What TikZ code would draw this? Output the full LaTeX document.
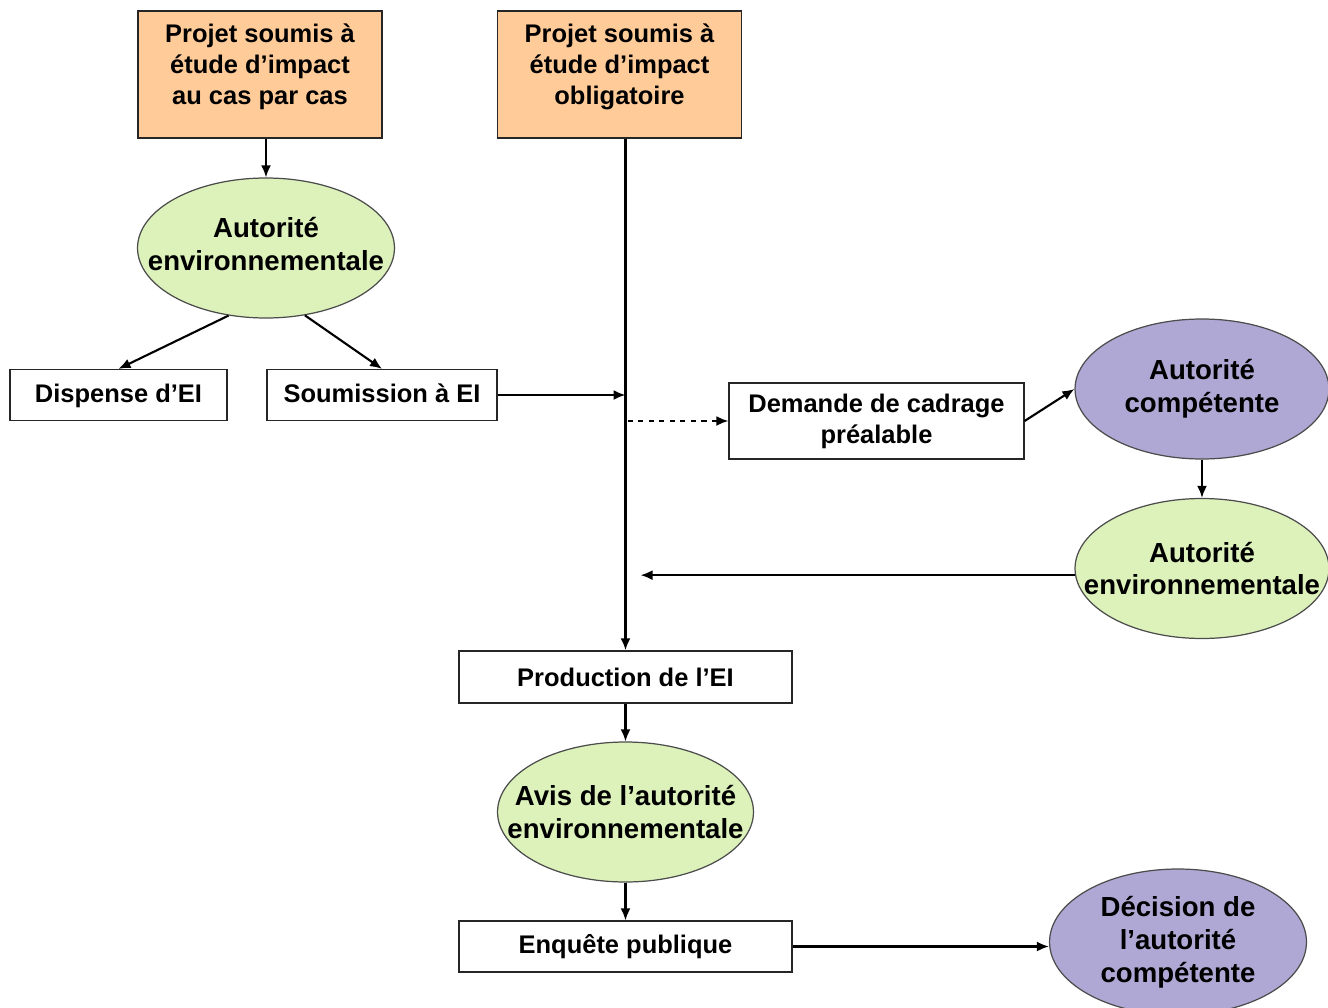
\documentclass[tikz,border=0pt]{standalone}
\usepackage{fontspec}
\setmainfont{Liberation Sans}
\usetikzlibrary{shapes.geometric, arrows.meta, positioning}

\definecolor{orangeclair}{RGB}{255,204,153}
\definecolor{vertclair}{RGB}{221,242,187}
\definecolor{violetclair}{RGB}{176,168,212}

\tikzset{
  boite/.style={rectangle, draw=black!85, line width=0.7pt, fill=white, align=center,
    inner sep=2pt, font=\bfseries\fontsize{14.5}{17.6}\selectfont},
  projet/.style={boite, fill=orangeclair, text depth=12pt},
  bulle/.style={ellipse, draw=black!70, line width=0.7pt, align=center, inner sep=-0.6cm,
    minimum width=5.12cm, minimum height=2.8cm, font=\bfseries\fontsize{15.7}{18.7}\selectfont},
  bulleverte/.style={bulle, fill=vertclair},
  bulleviolette/.style={bulle, fill=violetclair},
  fleche/.style={-{Latex[length=2.4mm,width=2mm]}, line width=1.2pt},
}

\begin{document}
\begin{tikzpicture}[x=0.02cm, y=-0.02cm]
\useasboundingbox (0,0) rectangle (1328,1007);

\node (PA) [projet, minimum width=4.88cm, minimum height=2.54cm] at (260,74.5) {Projet soumis à\\étude d’impact\\au cas par cas};
\node (PB) [projet, minimum width=4.88cm, minimum height=2.54cm] at (619.5,74.5) {Projet soumis à\\étude d’impact\\obligatoire};
\node (EA) [bulleverte, minimum width=5.14cm, text depth=5pt] at (266,248) {Autorité\\environnementale};
\node (Dis) [boite, minimum width=4.34cm, minimum height=1.02cm, text depth=2pt] at (118.5,395) {Dispense d’EI};
\node (Sou) [boite, minimum width=4.6cm, minimum height=1.02cm, text depth=2pt] at (382,395) {Soumission à EI};
\node (Dem) [boite, minimum width=5.9cm, minimum height=1.52cm] at (876.5,421) {Demande de cadrage\\préalable};
\node (AC) [bulleviolette, minimum width=5.08cm] at (1202,389) {Autorité\\compétente};
\node (EAb) [bulleverte, minimum width=5.08cm] at (1202,568.5) {Autorité\\environnementale};
\node (Prod) [boite, minimum width=6.66cm, minimum height=1.04cm] at (625.5,677) {Production de l’EI};
\node (Avis) [bulleverte] at (625.5,812) {Avis de l’autorité\\environnementale};
\node (Enq) [boite, minimum width=6.66cm, minimum height=1.02cm] at (625.5,946.5) {Enquête publique};
\node (Dec) [bulleviolette, minimum width=5.14cm, minimum height=2.92cm] at (1178,942) {Décision de\\l’autorité\\compétente};

%cas par cas
\draw [fleche] (PA.south -| EA.north) -- (EA.north);
\draw [fleche] (EA.241) -- (Dis.north);
\draw [fleche] (EA.300) -- (Sou.north);
\draw [fleche] (Sou.east) -- (Sou.east -| Prod.north);

%tronc commun
\draw [fleche, line width=1.5pt] (PB.south -| Prod.north) -- (Prod.north);
\draw [fleche, dashed] ([xshift=0.04cm]Dem.west -| Prod.north) -- (Dem.west);
\draw [fleche] (Dem.east) -- (AC.west);
\draw [fleche] (AC.south) -- (EAb.north);
\draw [fleche] (EAb.183) -- ([xshift=0.3cm]EAb.183 -| Prod.north);

%suite
\draw [fleche] (Prod.south) -- (Avis.north);
\draw [fleche] (Avis.south) -- (Enq.north);
\draw [fleche] (Enq.east) -- (Enq.east -| Dec.west);

\end{tikzpicture}
\end{document}
